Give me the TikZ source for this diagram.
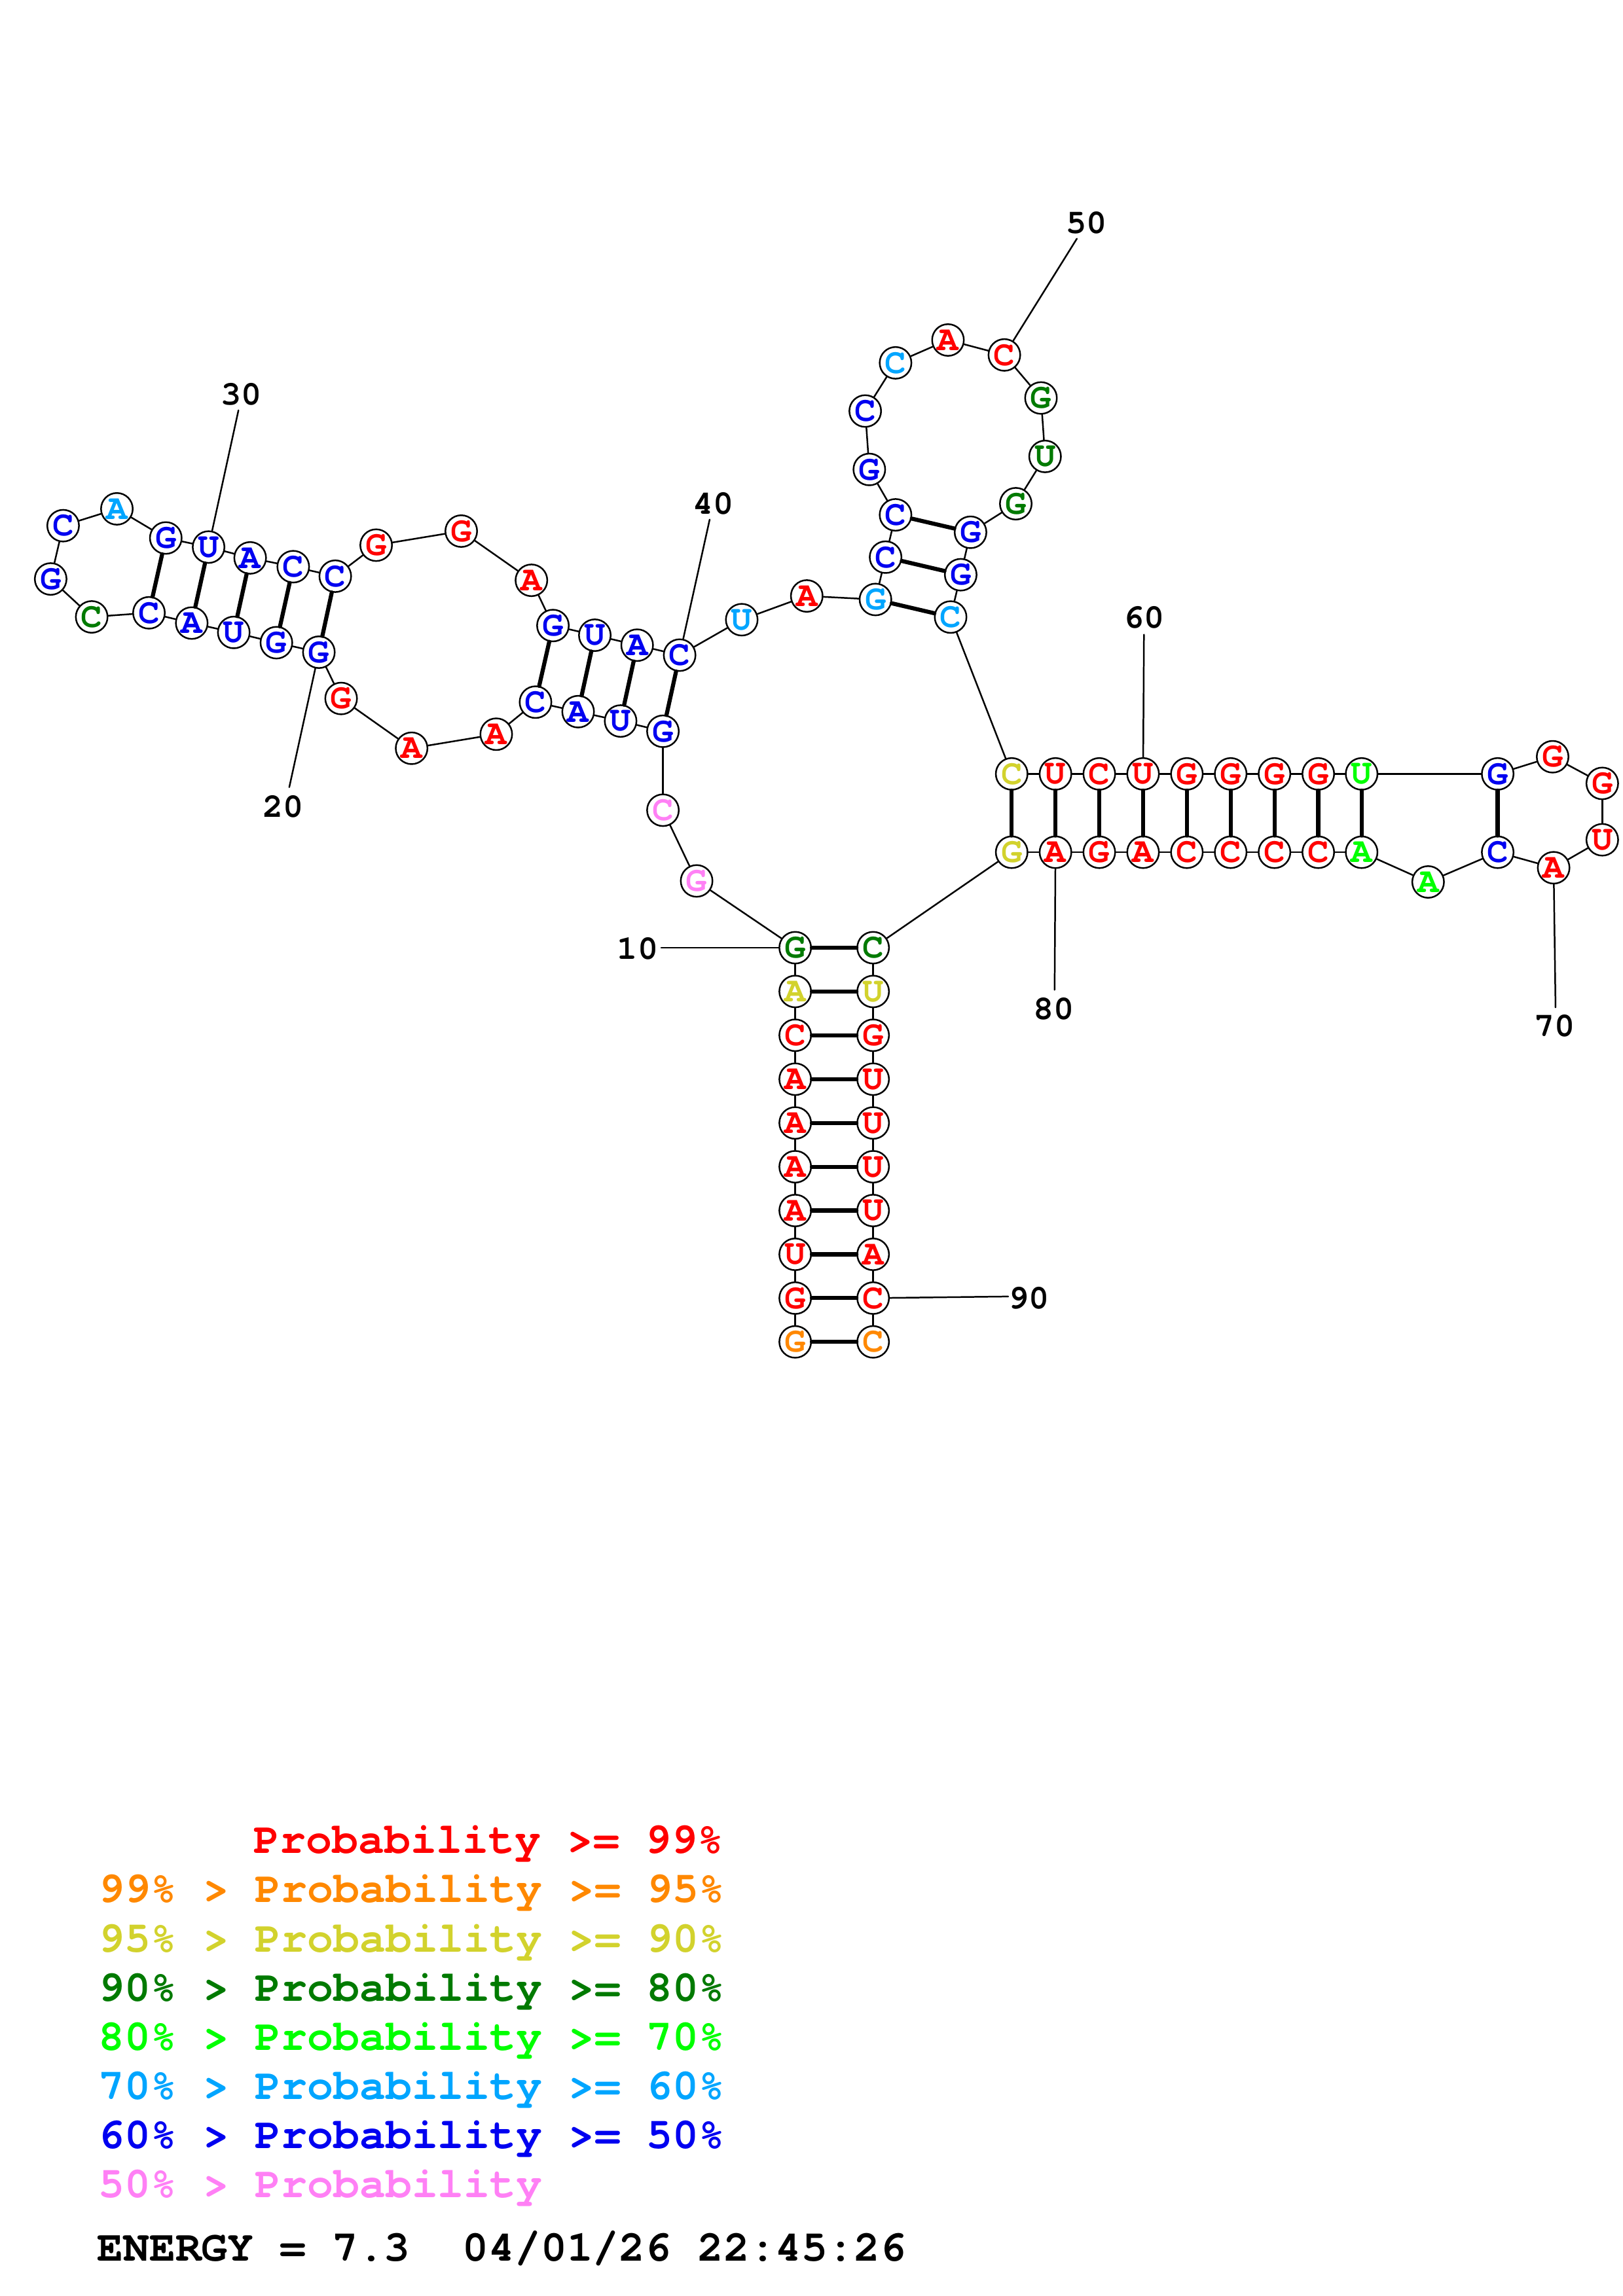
\documentclass[tikz,border=0pt]{standalone}
\usepackage{fontspec}
\newfontfamily\rnafont{TeX Gyre Cursor}
\definecolor{pr99}{RGB}{255,0,0}
\definecolor{pr95}{RGB}{255,136,0}
\definecolor{pr90}{RGB}{210,210,45}
\definecolor{pr80}{RGB}{0,122,0}
\definecolor{pr70}{RGB}{0,255,0}
\definecolor{pr60}{RGB}{0,165,255}
\definecolor{pr50}{RGB}{0,0,240}
\definecolor{pr00}{RGB}{255,128,245}
\begin{document}
\begin{tikzpicture}[x=0.018941cm, y=-0.018941cm, line join=round, line cap=round,
    font=\rnafont\bfseries,
    nt/.style={circle, draw, fill=white, line width=0.6pt, inner sep=0pt, minimum size=0.41cm, font=\rnafont\bfseries\fontsize{13}{13}\selectfont},
    bb/.style={line width=0.6pt},
    bp/.style={line width=1.5pt},
    numlab/.style={font=\rnafont\bfseries\fontsize{12.5}{12.5}\selectfont},
    legend/.style={anchor=base west, inner sep=0pt, font=\rnafont\bfseries\fontsize{16}{16}\selectfont}]
\useasboundingbox (0,0) rectangle (1108,1568);
\foreach \i/\x/\y/\b/\c in {1/542.9/916.4/G/pr95, 2/542.9/886.5/G/pr99, 3/542.9/856.6/U/pr99,
    4/542.9/826.7/A/pr99, 5/542.9/796.8/A/pr99, 6/542.9/766.9/A/pr99, 7/542.9/737.0/A/pr99,
    8/542.9/707.0/C/pr99, 9/542.9/677.1/A/pr90, 10/542.9/647.2/G/pr80, 11/475.6/601.6/G/pr00,
    12/452.6/553.3/C/pr00, 13/452.6/499.4/G/pr50, 14/423.7/492.4/U/pr50, 15/394.7/486.0/A/pr50,
    16/365.6/479.5/C/pr50, 17/338.8/501.4/A/pr99, 18/281.0/511.0/A/pr99, 19/232.9/477.0/G/pr99,
    20/217.7/445.4/G/pr50, 21/188.7/438.9/G/pr50, 22/159.6/431.9/U/pr50, 23/130.9/425.5/A/pr50,
    24/101.7/418.5/C/pr50, 25/62.6/421.3/C/pr80, 26/34.6/395.4/G/pr50, 27/43.1/359.0/C/pr50,
    28/79.8/347.5/A/pr60, 29/113.2/367.4/G/pr50, 30/142.4/373.6/U/pr50, 31/170.8/381.0/A/pr50,
    32/200.2/387.0/C/pr50, 33/228.9/393.5/C/pr50, 34/256.8/372.3/G/pr99, 35/314.9/362.7/G/pr99,
    36/362.8/396.3/A/pr99, 37/377.5/427.2/G/pr50, 38/406.1/433.8/U/pr50, 39/435.0/440.6/A/pr50,
    40/464.0/447.4/C/pr50, 41/506.4/423.2/U/pr60, 42/550.8/407.0/A/pr99, 43/597.7/409.4/G/pr60,
    44/604.6/380.5/C/pr50, 45/611.4/351.6/C/pr50, 46/593.5/320.6/G/pr50, 47/590.7/280.7/C/pr50,
    48/611.4/247.8/C/pr60, 49/647.2/232.2/A/pr99, 50/685.7/242.4/C/pr99, 51/710.7/271.8/G/pr80,
    52/713.5/311.7/U/pr80, 53/693.5/344.0/G/pr80, 54/662.6/363.5/G/pr50, 55/655.9/392.5/G/pr50,
    56/649.0/421.4/C/pr60, 57/690.7/528.5/C/pr90, 58/720.6/528.5/U/pr99, 59/750.5/528.5/C/pr99,
    60/780.4/528.5/U/pr99, 61/810.3/528.5/G/pr99, 62/840.2/528.5/G/pr99, 63/870.1/528.5/G/pr99,
    64/900.0/528.5/G/pr99, 65/929.6/528.5/U/pr70, 66/1022.5/528.5/G/pr50, 67/1060.0/516.8/G/pr99,
    68/1093.9/535.0/G/pr99, 69/1093.9/573.5/U/pr99, 70/1060.7/592.6/A/pr99, 71/1022.5/582.0/C/pr50,
    72/975.0/602.3/A/pr70, 73/929.6/582.0/A/pr70, 74/900.0/582.0/C/pr99, 75/870.1/582.0/C/pr99,
    76/840.2/582.0/C/pr99, 77/810.3/582.0/C/pr99, 78/780.4/582.0/A/pr99, 79/750.5/582.0/G/pr99,
    80/720.6/582.0/A/pr99, 81/690.7/582.0/G/pr90, 82/596.1/647.2/C/pr80, 83/596.1/677.1/U/pr90,
    84/596.1/707.0/G/pr99, 85/596.1/737.0/U/pr99, 86/596.1/766.9/U/pr99, 87/596.1/796.8/U/pr99,
    88/596.1/826.7/U/pr99, 89/596.1/856.6/A/pr99, 90/596.1/886.5/C/pr99, 91/596.1/916.4/C/pr95}
  \node[nt, text=\c] (n\i) at (\x,\y) {\b};
\foreach \i [evaluate=\i as \j using int(\i+1)] in {1,...,90}
  \draw[bb] (n\i) -- (n\j);
\foreach \a/\b in {1/91, 2/90, 3/89, 4/88, 5/87, 6/86, 7/85, 8/84, 9/83, 10/82,
    13/40, 14/39, 15/38, 16/37, 20/33, 21/32, 22/31, 23/30, 24/29, 43/56, 44/55, 45/54,
    57/81, 58/80, 59/79, 60/78, 61/77, 62/76, 63/75, 64/74, 65/73, 66/71}
  \draw[bp] (n\a) -- (n\b);
\foreach \i/\x/\y/\lx/\ly in {10/451.4/647.2/435.4/647.8, 20/197.5/537.6/193.5/550.6,
    30/162.8/280.2/164.7/269.2, 40/484.5/354.8/486.9/343.8, 50/735.2/163.0/741.7/152.0,
    60/781.0/433.4/781.0/421.6, 70/1062.0/688.0/1061.5/700.7, 80/720.0/676.0/719.5/689.0,
    90/688.3/885.4/702.6/886.7}
  {\coordinate (t\i) at (\x,\y);
   \draw[bb] (n\i) -- (t\i);
   \node[numlab] (l\i) at (\lx,\ly) {\i};}
\node[legend, text=pr99] (leg0) at (173,1265.7) {Probability >= 99\%};
\foreach \k/\c/\hi/\lo in {1/pr95/99/95, 2/pr90/95/90, 3/pr80/90/80, 4/pr70/80/70, 5/pr60/70/60, 6/pr50/60/50}
  \node[legend, text=\c] (leg\k) at (67,1265.7+33.6*\k) {\hi\% > Probability >= \lo\%};
\node[legend, text=pr00] (leg7) at (67,1500.9) {50\% > Probability};
\node[legend] (energy) at (66,1543.9) {ENERGY = 7.3\ \ 04/01/26 22:45:26};
\end{tikzpicture}
\end{document}
